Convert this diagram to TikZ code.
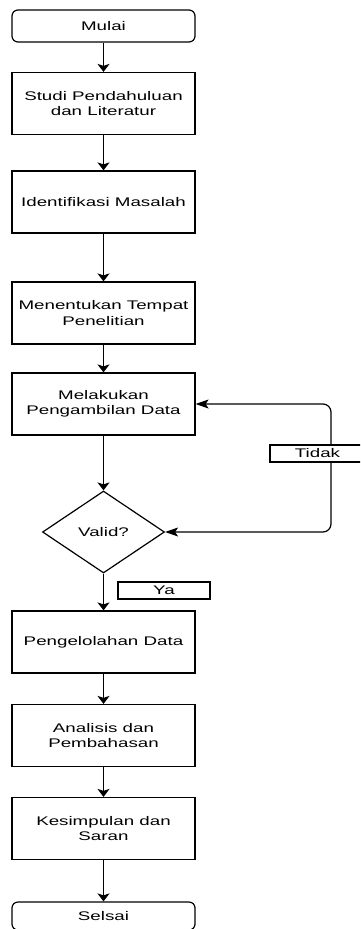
\documentclass[tikz,border=0pt]{standalone}
\usepackage{fontspec}
\setmainfont{Liberation Sans}[FakeStretch=1.5]
\usetikzlibrary{shapes.geometric,arrows.meta}
\begin{document}
\begin{tikzpicture}[x=1pt,y=-1pt,
  txt/.style={font=\fontsize{12.5}{15.5}\selectfont, text=black},
  box/.style={draw, txt, line width=1.2pt, minimum width=183pt, minimum height=62pt, align=center, inner sep=0pt},
  term/.style={box, rounded corners=6pt, minimum height=32pt},
  dec/.style={draw, txt, diamond, line width=1.2pt, minimum width=122pt, minimum height=82pt, aspect=1.49, inner sep=0pt},
  lab/.style={draw, txt, fill=white, line width=1.1pt, inner sep=0pt, minimum height=17pt},
  arr/.style={line width=1.2pt, -{Stealth[length=8pt,width=12pt,inset=2pt]}},
  harr/.style={line width=1.2pt, {Stealth[length=13pt,width=9pt,inset=3pt]}-{Stealth[length=13pt,width=9pt,inset=3pt]}}]
\clip (0,0) rectangle (360,929);
\fill[white] (0,0) rectangle (360,929);

\node[term] (mulai) at (103.5,26) {Mulai};
\node[box] (studi) at (103.5,103.5) {Studi Pendahuluan\\dan Literatur};
\node[box] (ident) at (103.5,202) {Identifikasi Masalah};
\node[box] (ment) at (103.5,313) {Menentukan Tempat\\Penelitian};
\node[box] (mel) at (103.5,404) {Melakukan\\Pengambilan Data};
\node[dec] (valid) at (103.5,532) {Valid?};
\node[box] (peng) at (103.5,642) {Pengelolahan Data};
\node[box] (anal) at (103.5,735.5) {Analisis dan\\Pembahasan};
\node[box] (kes) at (103.5,828.5) {Kesimpulan dan\\Saran};
\node[term, minimum height=28pt] (sels) at (103.5,916) {Selsai};

\draw[arr] (mulai) -- (studi);
\draw[arr] (studi) -- (ident);
\draw[arr] (ident) -- (ment);
\draw[arr] (ment) -- (mel);
\draw[arr] (mel) -- (valid);
\draw[arr] (valid) -- (peng);
\draw[arr] (peng) -- (anal);
\draw[arr] (anal) -- (kes);
\draw[arr] (kes) -- (sels);

\coordinate (c1) at (331,404);
\coordinate (c2) at (331,532);
\draw[harr, rounded corners=8pt] (valid.east) -- (c2) -- (c1) -- (mel.east);

\node[lab, minimum width=95pt] (tidak) at (317.5,453.5) {Tidak};
\node[lab, minimum width=92pt] (ya) at (164,590.5) {Ya};
\end{tikzpicture}
\end{document}
